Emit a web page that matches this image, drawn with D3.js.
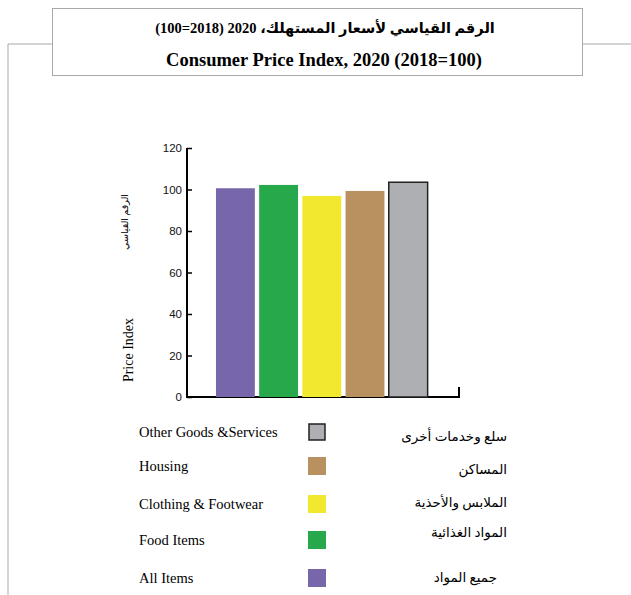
<!DOCTYPE html>
<html>
<head>
<meta charset="utf-8">
<script src="https://cdn.jsdelivr.net/npm/d3@7"></script>
<style>
body { margin:0; background:#fff; }
svg text { font-family: "Liberation Serif", "DejaVu Serif", "DejaVu Sans", serif; }
</style>
</head>
<body>
<div id="chart"></div>
<script>
const categories = ["All Items", "Food Items", "Clothing & Footwear", "Housing", "Other Goods &Services"]
const categoriesAr = ["جميع المواد", "المواد الغذائية", "الملابس والأحذية", "المساكن", "سلع وخدمات أخرى"]
const values = [100.6, 102.2, 96.9, 99.3, 103.5]
const colors = ["#7866ab", "#27a84a", "#f2e92f", "#b99161", "#aeafb2"]
const yTicks = [0, 20, 40, 60, 80, 100, 120]

const width = 631
const height = 595

const svg = d3.select('#chart').append('svg')
  .attr('width', width)
  .attr('height', height)

// frame lines
svg.append('path')
  .attr('d', 'M8,595 V44 H52 M582,44 H631')
  .attr('fill', 'none')
  .attr('stroke', '#a7a9ac')
  .attr('stroke-width', 1)

svg.append('rect')
  .attr('x', 52.5).attr('y', 8.5)
  .attr('width', 530).attr('height', 67)
  .attr('fill', '#fff')
  .attr('stroke', '#a7a9ac')

svg.append('text')
  .text('الرقم القياسي لأسعار المستهلك، 2020 (2018=100)')
  .attr('x', 325).attr('y', 33)
  .attr('text-anchor', 'middle')
  .attr('font-weight', 'bold')
  .attr('font-size', 14.5)

svg.append('text')
  .text('Consumer Price Index, 2020 (2018=100)')
  .attr('x', 324).attr('y', 66)
  .attr('text-anchor', 'middle')
  .attr('font-weight', 'bold')
  .attr('font-size', 18.5)

const yScale = d3.scaleLinear()
  .domain([0, 120])
  .range([397, 148])

const xScale = d3.scaleBand()
  .domain(categories)
  .range([213.8, 429.8])
  .paddingInner(0.1)
  .paddingOuter(0.05)

const yAxis = d3.axisLeft(yScale)
  .tickValues(yTicks)
  .tickSize(-5)
  .tickPadding(5)
  .tickSizeOuter(0)

const yAxisGroup = svg.append('g')
  .attr('transform', 'translate(187,0)')
  .call(yAxis)

yAxisGroup.select('.domain').remove()
yAxisGroup.selectAll('.tick line').attr('stroke', '#000').attr('stroke-width', 1.5)
yAxisGroup.selectAll('.tick text')
  .style('font-family', '"Liberation Sans", Arial, sans-serif')
  .attr('font-size', 11.5)
  .attr('fill', '#111')

// axis lines
svg.append('path')
  .attr('d', `M187,${yScale(120)} V${yScale(0)} H459 V387`)
  .attr('fill', 'none')
  .attr('stroke', '#000')
  .attr('stroke-width', 2)

svg.append('g')
  .selectAll('rect')
  .data(values)
  .enter()
  .append('rect')
  .attr('x', (d, i) => xScale(categories[i]))
  .attr('y', d => yScale(d))
  .attr('width', xScale.bandwidth())
  .attr('height', d => yScale(0) - yScale(d))
  .attr('fill', (d, i) => colors[i])
  .attr('stroke', (d, i) => i === 4 ? '#222' : 'none')
  .attr('stroke-width', 1.5)

// y labels
svg.append('text')
  .text('Price Index')
  .attr('transform', 'translate(133,350) rotate(-90)')
  .attr('text-anchor', 'middle')
  .attr('font-size', 14)

svg.append('text')
  .text('الرقم القياسي')
  .attr('transform', 'translate(128,222) rotate(-90)')
  .attr('text-anchor', 'middle')
  .attr('font-size', 9.5)

// legend (top to bottom is reversed category order)
const legendY = [432, 466, 504, 540, 578]
const arY = [441, 474, 507, 537, 582]
const arX = [507, 507, 507, 507, 497]
const legend = svg.append('g')
const order = [4, 3, 2, 1, 0]
order.forEach((ci, k) => {
  legend.append('text')
    .text(categories[ci])
    .attr('x', 139).attr('y', legendY[k] + 5)
    .attr('font-size', 14.5)
  legend.append('rect')
    .attr('x', ci === 4 ? 309 : 308).attr('y', legendY[k] - 9 + (ci === 4 ? 1 : 0))
    .attr('width', ci === 4 ? 16 : 18).attr('height', ci === 4 ? 16 : 18)
    .attr('fill', colors[ci])
    .attr('stroke', ci === 4 ? '#222' : 'none')
    .attr('stroke-width', 1.5)
  legend.append('text')
    .text(categoriesAr[ci])
    .attr('x', arX[k]).attr('y', arY[k])
    .attr('text-anchor', 'end')
    .attr('font-size', 13.5)
})
</script>
</body>
</html>
